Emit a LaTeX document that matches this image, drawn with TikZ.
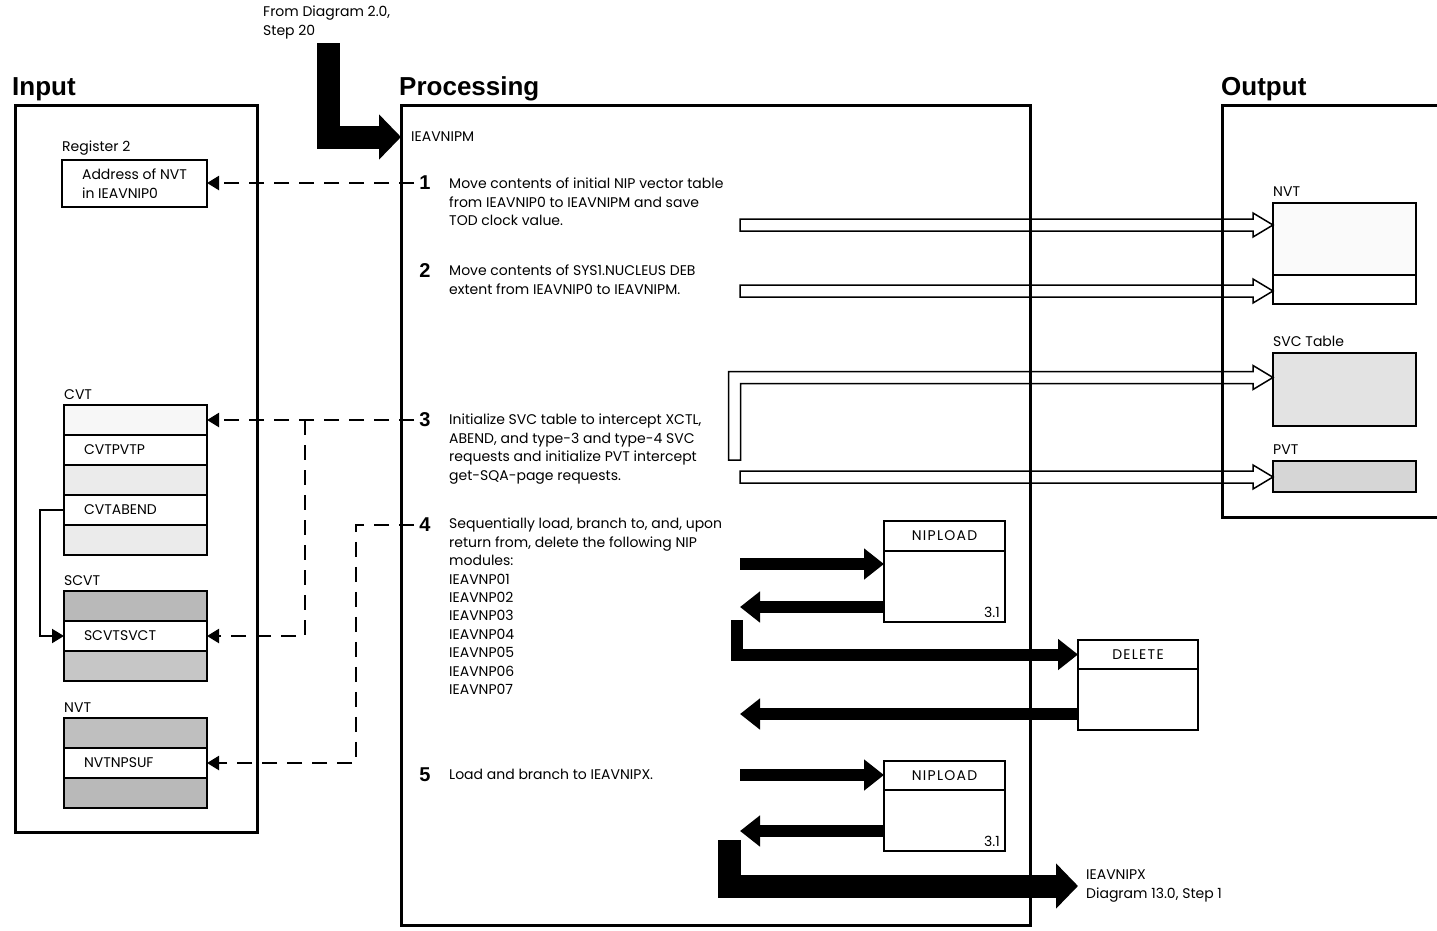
\documentclass[tikz,border=0pt]{standalone}
\usepackage{fontspec}
\setmainfont{Poppins}
\newfontfamily\headfont{Liberation Sans}
\newfontfamily\capsfont[LetterSpace=9]{Poppins}
\usetikzlibrary{arrows.meta, positioning, calc}

% hollow arrow, horizontal, from #1 to the x of #2
\newcommand\openarr[2]{%
  \draw[openarrow] let \p1=(#1), \p2=(#2) in
    (\x1,\y1+6pt) -- (\x2-20pt,\y1+6pt) -- (\x2-20pt,\y1+12pt) -- (\x2,\y1)
    -- (\x2-20pt,\y1-12pt) -- (\x2-20pt,\y1-6pt) -- (\x1,\y1-6pt) -- cycle;}

\begin{document}
\begin{tikzpicture}[x=1pt, y=-1pt,
  every node/.style={font=\fontsize{14}{18.4}\selectfont, inner sep=0pt},
  title/.style={font=\headfont\bfseries\fontsize{26}{30}\selectfont, anchor=base west},
  stepnum/.style={font=\headfont\bfseries\fontsize{20}{22}\selectfont},
  steptext/.style={anchor=north west, align=left},
  frame/.style={draw, line width=3pt, outer sep=0pt},
  row/.style={draw, line width=1.5pt, minimum width=143pt, minimum height=30pt,
              text width=103pt, inner xsep=20pt, align=left, outer sep=0pt},
  hdr/.style={draw, line width=1.5pt, minimum width=121pt, minimum height=30pt,
              outer sep=0pt, font=\capsfont\fontsize{14}{18}\selectfont},
  body/.style={draw, line width=1.5pt, minimum width=121pt, outer sep=0pt},
  dasharrow/.style={-{Triangle[length=12pt,width=14pt]}, line width=2.2pt,
                    dash pattern=on 15pt off 10pt},
  thinarrow/.style={-{Triangle[length=12pt,width=14pt]}, line width=2pt},
  fatarrow/.style={-{Triangle[length=20pt,width=30pt]}, line width=12pt},
  hugearrow/.style={-{Triangle[length=22pt,width=44pt]}, line width=23pt},
  openarrow/.style={line width=1.5pt, line join=miter},
]
  \useasboundingbox (0,0) rectangle (1437,930);

  % frames
  \node[frame, minimum width=242pt, minimum height=727pt, anchor=north west] (inframe) at (15,105) {};
  \node[frame, minimum width=629pt, minimum height=820pt, anchor=north west] (procframe) at (401,105) {};
  \draw[line width=3pt] (1437,105) -- (1222,105) -- (1222,517) -- (1437,517);

  \node[title] (intitle)   at (12,95)   {Input};
  \node[title] (proctitle) at (399,95)  {Processing};
  \node[title] (outtitle)  at (1221,95) {Output};

  % entry
  \node[steptext] (from) at (263,6) {From Diagram 2.0,\\Step 20};
  \node[anchor=west, inner xsep=10pt] (ieavnipm) at (401,137) {IEAVNIPM};
  \coordinate (top0) at (328,43);
  \draw[hugearrow] (top0) |- (ieavnipm.west);

  % steps
  \node[stepnum] (s1) at (425,183) {1};
  \node[steptext] (t1) at (449,178)
    {Move contents of initial NIP vector table\\from IEAVNIP0 to IEAVNIPM and save\\TOD clock value.};
  \node[stepnum] (s2) at (425,271) {2};
  \node[steptext] (t2) at (449,265)
    {Move contents of SYS1.NUCLEUS DEB\\extent from IEAVNIP0 to IEAVNIPM.};
  \node[stepnum] (s3) at (425,420) {3};
  \node[steptext] (t3) at (449,414)
    {Initialize SVC table to intercept XCTL,\\ABEND, and type-3 and type-4 SVC\\requests and initialize PVT intercept\\get-SQA-page requests.};
  \node[stepnum] (s4) at (425,525) {4};
  \node[steptext] (t4) at (449,518)
    {Sequentially load, branch to, and, upon\\return from, delete the following NIP\\modules:\\IEAVNP01\\IEAVNP02\\IEAVNP03\\IEAVNP04\\IEAVNP05\\IEAVNP06\\IEAVNP07};
  \node[stepnum] (s5) at (425,775) {5};
  \node[steptext] (t5) at (449,769) {Load and branch to IEAVNIPX.};

  % input
  \node[draw, line width=1.5pt, minimum width=145pt, minimum height=47pt, align=left,
        outer sep=0pt, anchor=north west] (addr) at (62,160) {Address of NVT\\in IEAVNIP0};
  \node[above right=5pt and 0pt of addr.north west] (reglbl) {Register 2};

  \node[row, fill=gray!6, anchor=north west] (cvt0) at (64,405) {};
  \node[row, below=0pt of cvt0] (cvt1) {CVTPVTP};
  \node[row, fill=gray!16, below=0pt of cvt1] (cvt2) {};
  \node[row, below=0pt of cvt2] (cvt3) {CVTABEND};
  \node[row, fill=gray!16, below=0pt of cvt3] (cvt4) {};
  \node[above right=5pt and 0pt of cvt0.north west] (cvtlbl) {CVT};

  \node[row, fill=gray!55, anchor=north west] (scvt0) at (64,591) {};
  \node[row, below=0pt of scvt0] (scvt1) {SCVTSVCT};
  \node[row, fill=gray!45, below=0pt of scvt1] (scvt2) {};
  \node[above right=5pt and 0pt of scvt0.north west] (scvtlbl) {SCVT};

  \node[row, fill=gray!50, anchor=north west] (nvt0) at (64,718) {};
  \node[row, below=0pt of nvt0] (nvt1) {NVTNPSUF};
  \node[row, fill=gray!55, below=0pt of nvt1] (nvt2) {};
  \node[above right=5pt and 0pt of nvt0.north west] (nvtlbl) {NVT};

  \draw[dasharrow, shorten <=5pt] (s1.west) -- (s1.west -| addr.east);
  \draw[dasharrow, shorten <=5pt] (s3.west) -- (s3.west -| cvt0.east);
  \coordinate (j3) at (305,420);
  \draw[dasharrow] (j3) |- (scvt1.east);
  \coordinate (j4) at (356,525);
  \draw[dasharrow, shorten <=5pt] (s4.west) -- (j4) |- (nvt1.east);
  \draw[thinarrow] (cvt3.west) -- ++(-24,0) |- (scvt1.west);

  % output
  \node[row, fill=gray!4, minimum height=72pt, anchor=north west] (onvt) at (1273,203) {};
  \node[row, minimum height=29pt, below=0pt of onvt] (onvtb) {};
  \node[above right=6pt and 0pt of onvt.north west] (onvtlbl) {NVT};
  \node[row, fill=gray!22, minimum height=73pt, anchor=north west] (osvc) at (1273,353) {};
  \node[above right=6pt and 0pt of osvc.north west] (osvclbl) {SVC Table};
  \node[row, fill=gray!32, minimum height=31pt, anchor=north west] (opvt) at (1273,461) {};
  \node[above right=6pt and 0pt of opvt.north west] (opvtlbl) {PVT};

  \coordinate (o1) at (740,225);
  \coordinate (o2) at (740,291);
  \coordinate (o3) at (734.5,460);
  \coordinate (o3t) at (734.5,377.5);
  \coordinate (o4) at (740,477);
  \openarr{o1}{onvt.west}
  \openarr{o2}{onvtb.west}
  \openarr{o4}{opvt.west}
  \draw[openarrow] let \p1=(o3), \p2=(osvc.west), \p3=(o3t) in
    (\x1-6pt,\y1) -- (\x1-6pt,\y3+6pt) -- (\x2-20pt,\y3+6pt) -- (\x2-20pt,\y3+12pt)
    -- (\x2,\y3) -- (\x2-20pt,\y3-12pt) -- (\x2-20pt,\y3-6pt) -- (\x1+6pt,\y3-6pt)
    -- (\x1+6pt,\y1) -- cycle;

  % called modules
  \node[hdr, anchor=north west] (nl1h) at (884,521) {NIPLOAD};
  \node[body, minimum height=71pt, below=0pt of nl1h] (nl1b) {};
  \node[above left=4pt and 5pt of nl1b.south east] (nl1n) {3.1};
  \node[hdr, minimum width=120pt, minimum height=29pt, anchor=north west] (delh) at (1078,640) {DELETE};
  \node[body, minimum width=120pt, minimum height=61pt, below=0pt of delh] (delb) {};
  \node[hdr, minimum height=29pt, anchor=north west] (nl2h) at (884,761) {NIPLOAD};
  \node[body, minimum height=61pt, below=0pt of nl2h] (nl2b) {};
  \node[above left=4pt and 5pt of nl2b.south east] (nl2n) {3.1};

  \coordinate (in1) at (740,564);
  \coordinate (out1) at (740,607);
  \coordinate (d1) at (737,620);
  \coordinate (back) at (740,714);
  \coordinate (in2) at (740,775);
  \coordinate (out2) at (740,831);
  \coordinate (x0) at (729.5,840);
  \node[anchor=west, inner xsep=8pt, align=left] (exitlbl) at (1078,886)
    {IEAVNIPX\\Diagram 13.0, Step 1};

  \draw[fatarrow] (in1) -- (in1 -| nl1b.west);
  \draw[fatarrow] (out1 -| nl1b.west) -- (out1);
  \draw[fatarrow] (d1) |- (delh.west);
  \draw[fatarrow] (back -| delb.west) -- (back);
  \draw[fatarrow] (in2) -- (in2 -| nl2h.west);
  \draw[fatarrow] (out2 -| nl2b.west) -- (out2);
  \draw[hugearrow] (x0) |- (exitlbl.west);
\end{tikzpicture}
\end{document}
